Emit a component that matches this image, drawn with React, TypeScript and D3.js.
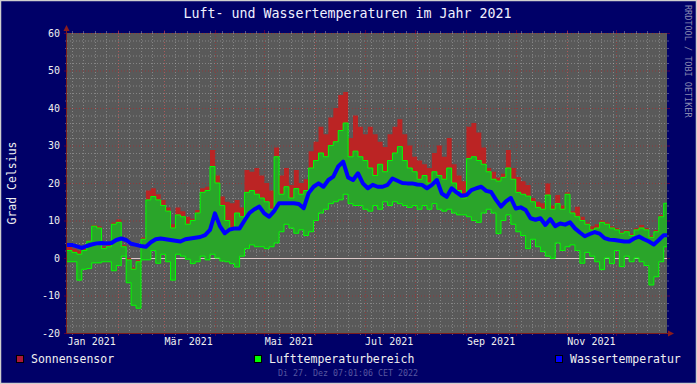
import React from "react";
import * as d3 from "d3";

// Messwerte im 3-Tage-Raster ab 1. Jan 2021
const startDay = new Date(Date.UTC(2021, 0, 1));
const endDay = new Date(Date.UTC(2022, 0, 1));
const stepDays = 3;

// Lufttemperatur Tagesmaximum
const airMax = [
  2.0, 1.5, 1.0, 2.0, 4.5, 8.5, 8.0, 2.5, 3.0, 9.0,
  9.5, 3.0, -0.5, -3.0, -1.0, 5.0, 15.5, 16.4, 15.5, 14.0,
  12.5, 8.0, 11.5, 11.0, 9.0, 10.0, 12.0, 17.5, 18.0, 24.4,
  20.0, 14.0, 10.0, 8.0, 12.0, 11.0, 17.5, 18.0, 17.0, 16.0,
  15.0, 13.0, 27.0, 17.0, 19.0, 16.0, 18.5, 17.0, 18.0, 24.0,
  26.0, 28.0, 27.0, 30.0, 31.0, 34.0, 36.0, 27.0, 28.5, 27.0,
  26.0, 24.0, 22.0, 25.0, 23.0, 26.0, 28.0, 29.7, 26.0, 24.0,
  23.0, 21.0, 22.0, 20.0, 23.0, 22.0, 21.0, 24.0, 20.0, 18.0,
  16.0, 26.5, 27.0, 26.0, 25.0, 23.0, 21.0, 20.5, 21.5, 24.0,
  21.0, 17.5, 17.0, 16.5, 15.0, 13.5, 13.0, 16.8, 13.0, 14.5,
  13.0, 17.0, 12.0, 11.0, 10.0, 9.0, 7.5, 8.0, 9.5, 9.0,
  8.0, 7.5, 6.6, 7.0, 6.0, 7.5, 8.0, 7.5, 5.5, 7.0,
  11.0, 14.6,
];

// Lufttemperatur Tagesminimum
const airMin = [
  -1.0, -1.0, -5.9, -3.0, -2.8, -1.3, -1.3, -1.0, -1.0, -3.4,
  -2.0, 0.5, -6.6, -12.6, -13.4, -0.5, -0.5, 2.0, -1.4, 1.0,
  -1.0, -5.9, 1.0, 0.5, -0.3, -1.5, -1.0, 0.5, -0.5, 1.0,
  0.0, -0.8, -1.0, -1.5, -2.4, 0.5, 2.5, 3.5, 3.0, 3.0,
  2.5, 3.0, 4.0, 7.0, 9.0, 8.0, 6.6, 7.5, 6.0, 7.0,
  10.0, 12.0, 13.0, 14.5, 15.0, 15.5, 17.0, 14.5, 14.0, 14.0,
  13.0, 12.5, 14.0, 13.0, 15.0, 14.0, 15.0, 14.5, 14.0, 13.5,
  14.0, 13.0, 14.0, 13.0, 14.5, 13.0, 12.5, 13.0, 12.0, 11.5,
  11.5, 11.0, 10.0, 9.5, 12.0, 13.0, 12.0, 6.5, 10.0, 11.5,
  9.0, 7.0, 6.0, 2.5, 5.0, 3.0, 1.7, 0.5, -0.1, 4.0,
  2.0, 3.0, 3.5, 2.0, -1.4, 1.5, 0.5, -1.0, -3.1, 0.0,
  -1.5, 2.0, -2.3, 0.5, -1.0, 0.0, -1.0, -2.0, -7.2, -5.0,
  -1.0, 3.0,
];

// Sonnensensor Maximum
const sunMax = [
  3.0, 2.5, 2.0, 2.5, 4.8, 8.8, 8.5, 3.0, 4.0, 9.5,
  10.3, 3.5, 0.0, -2.5, -0.5, 5.5, 18.0, 18.6, 17.0, 15.5,
  13.5, 9.0, 13.5, 12.5, 11.0, 10.5, 12.8, 18.6, 19.0, 28.8,
  22.0, 16.4, 15.0, 14.6, 15.5, 13.5, 23.5, 23.0, 24.0, 22.0,
  20.0, 18.0, 29.5, 22.0, 24.0, 19.5, 23.5, 20.0, 21.0, 28.5,
  31.0, 35.0, 33.0, 37.5, 40.0, 43.5, 44.3, 32.0, 38.0, 35.0,
  33.0, 35.0, 33.0, 31.0, 29.6, 33.0, 35.0, 37.0, 33.0, 30.0,
  27.0, 26.0, 25.0, 24.0, 28.0, 30.0, 27.0, 32.0, 25.0, 22.0,
  20.5, 35.0, 36.0, 33.5, 29.5, 24.0, 23.0, 21.5, 22.5, 28.8,
  24.0, 21.6, 20.5, 19.5, 16.0, 15.0, 14.6, 19.9, 14.0, 16.8,
  14.0, 17.5, 12.5, 13.7, 11.0, 9.5, 8.5, 9.0, 10.0, 9.5,
  8.5, 8.0, 7.0, 7.5, 6.5, 8.0, 8.8, 8.0, 6.0, 7.5,
  11.5, 14.6,
];

// Wassertemperatur
const water = [
  3.5, 3.5, 3.1, 2.7, 3.2, 3.6, 3.9, 4.0, 3.9, 4.0,
  4.8, 5.2, 4.8, 3.8, 3.5, 3.2, 3.0, 4.2, 5.0, 5.2,
  5.0, 4.8, 4.6, 4.4, 5.0, 5.2, 5.4, 5.6, 6.1, 7.5,
  11.9, 8.5, 6.6, 7.6, 7.9, 7.9, 10.0, 12.0, 13.0, 13.7,
  11.9, 11.0, 12.5, 14.6, 14.6, 14.6, 14.6, 14.4, 13.3, 17.3,
  19.0, 19.9, 19.0, 20.8, 21.7, 24.4, 25.7, 21.5, 20.8, 22.6,
  19.9, 18.6, 19.5, 19.0, 19.0, 19.5, 21.2, 20.6, 20.0, 19.9,
  19.9, 19.6, 19.5, 18.6, 19.5, 20.8, 17.2, 16.3, 18.6, 17.5,
  16.6, 16.8, 18.1, 18.6, 19.0, 17.9, 17.6, 15.5, 13.7, 15.1,
  16.0, 13.2, 13.5, 12.8, 10.6, 10.2, 10.6, 8.8, 10.4, 8.5,
  9.2, 8.9, 9.5, 7.9, 6.8, 5.8, 6.4, 6.9, 6.5, 5.3,
  4.9, 4.8, 4.6, 4.4, 4.4, 5.2, 5.7, 5.0, 4.4, 3.6,
  4.8, 6.1,
];

const yTicks = [-20, -10, 0, 10, 20, 30, 40, 50, 60];
const monthNames = ["Jan", "Feb", "Mär", "Apr", "Mai", "Jun", "Jul", "Aug", "Sep", "Okt", "Nov", "Dez"];
const legendItems = [
  { label: "Sonnensensor", color: "#aa1838", x: 16 },
  { label: "Lufttemperaturbereich", color: "#00ff00", x: 254 },
  { label: "Wassertemperatur", color: "#0000ff", x: 555 },
];

const W = 697;
const H = 384;
const plot = { left: 67, right: 667, top: 33, bottom: 333 };
const font = "'DejaVu Sans Mono', monospace";

const minorColor = "rgba(200,200,200,0.4)";
const majorColor = "rgba(255,0,0,0.33)";

const App: React.FC = () => {
  const x = d3.scaleUtc().domain([startDay, endDay]).range([plot.left, plot.right]);
  const y = d3.scaleLinear().domain([-20, 60]).range([plot.bottom, plot.top]);

  const rows = airMax.map((v, i) => ({
    d: d3.utcDay.offset(startDay, i * stepDays),
    max: v,
    min: airMin[i],
    sun: sunMax[i],
    w: water[i],
  }));
  const stepRows = [...rows, { ...rows[rows.length - 1], d: endDay }];

  const sunArea = d3
    .area<any>()
    .curve(d3.curveStepAfter)
    .x((d) => x(d.d))
    .y0((d) => y(d.max))
    .y1((d) => y(Math.max(d.sun, d.max)));
  const airArea = d3
    .area<any>()
    .curve(d3.curveStepAfter)
    .x((d) => x(d.d))
    .y0((d) => y(d.min))
    .y1((d) => y(d.max));
  const maxLine = d3.line<any>().curve(d3.curveStepAfter).x((d) => x(d.d)).y((d) => y(d.max));
  const minLine = d3.line<any>().curve(d3.curveStepAfter).x((d) => x(d.d)).y((d) => y(d.min));
  const waterLine = d3.line<any>().x((d) => x(d.d)).y((d) => y(d.w));

  const minorY = d3.range(-20, 61, 2).filter((v) => v % 10 !== 0);
  const weeks = d3.utcMonday.range(startDay, endDay);
  const months = d3.utcMonth.range(d3.utcDay.offset(startDay, 1), endDay);
  const labelMonths = d3.utcMonth.every(2)!.range(startDay, endDay);

  return (
    <>
      <style>{"body{margin:0}"}</style>
      <svg width={W} height={H} style={{ display: "block" }}>
        <rect x={0} y={0} width={W} height={H} fill="#000068" />
        <rect x={0.5} y={0.5} width={W - 1} height={H - 1} fill="none" stroke="#cfcfcf" strokeWidth={1.5} />

        {/* Zeichenfläche */}
        <rect x={plot.left} y={plot.top} width={plot.right - plot.left} height={plot.bottom - plot.top} fill="#595959" />

        {/* Gitter */}
        {minorY.map((v) => (
          <g key={"hy" + v}>
            <line x1={plot.left} x2={plot.right} y1={y(v) + 0.5} y2={y(v) + 0.5} stroke={minorColor} strokeDasharray="1,2" />
            <line x1={plot.left - 2} x2={plot.left} y1={y(v) + 0.5} y2={y(v) + 0.5} stroke={minorColor} />
            <line x1={plot.right} x2={plot.right + 2} y1={y(v) + 0.5} y2={y(v) + 0.5} stroke={minorColor} />
          </g>
        ))}
        {weeks.map((d) => (
          <g key={"wk" + d.getTime()}>
            <line x1={Math.round(x(d)) + 0.5} x2={Math.round(x(d)) + 0.5} y1={plot.top} y2={plot.bottom} stroke={minorColor} strokeDasharray="1,2" />
            <line x1={Math.round(x(d)) + 0.5} x2={Math.round(x(d)) + 0.5} y1={plot.bottom} y2={plot.bottom + 2} stroke={minorColor} />
            <line x1={Math.round(x(d)) + 0.5} x2={Math.round(x(d)) + 0.5} y1={plot.top - 2} y2={plot.top} stroke={minorColor} />
          </g>
        ))}
        {yTicks.map((v) => (
          <g key={"my" + v}>
            <line x1={plot.left} x2={plot.right} y1={y(v) + 0.5} y2={y(v) + 0.5} stroke={majorColor} strokeDasharray="1,2" />
            <line x1={plot.left - 3} x2={plot.left} y1={y(v) + 0.5} y2={y(v) + 0.5} stroke={majorColor} />
            <line x1={plot.right} x2={plot.right + 3} y1={y(v) + 0.5} y2={y(v) + 0.5} stroke={majorColor} />
          </g>
        ))}
        {months.map((d) => (
          <g key={"mo" + d.getTime()}>
            <line x1={Math.round(x(d)) + 0.5} x2={Math.round(x(d)) + 0.5} y1={plot.top} y2={plot.bottom} stroke={majorColor} strokeDasharray="1,2" />
            <line x1={Math.round(x(d)) + 0.5} x2={Math.round(x(d)) + 0.5} y1={plot.bottom} y2={plot.bottom + 3} stroke={majorColor} />
            <line x1={Math.round(x(d)) + 0.5} x2={Math.round(x(d)) + 0.5} y1={plot.top - 3} y2={plot.top} stroke={majorColor} />
          </g>
        ))}

        {/* Nulllinie */}
        <line x1={plot.left} x2={plot.right} y1={y(0) + 0.5} y2={y(0) + 0.5} stroke="#dcc8c8" />

        {/* Daten */}
        <path d={sunArea(stepRows) ?? ""} fill="#bb2424" />
        <path d={airArea(stepRows) ?? ""} fill="#2aa52a" />
        <path d={maxLine(stepRows) ?? ""} fill="none" stroke="#00ff00" strokeWidth={1} />
        <path d={minLine(stepRows) ?? ""} fill="none" stroke="#00ff00" strokeWidth={1} />
        <path d={waterLine(stepRows) ?? ""} fill="none" stroke="#0000ff" strokeWidth={4} strokeLinejoin="round" />

        {/* Achsen */}
        <line x1={plot.left - 0.5} x2={plot.left - 0.5} y1={plot.top - 3} y2={plot.bottom + 0.5} stroke="#7a1c1c" />
        <line x1={plot.left - 0.5} x2={plot.right + 3} y1={plot.bottom + 0.5} y2={plot.bottom + 0.5} stroke="#7a1c1c" />
        <path d={`M${plot.left - 3.5},${plot.top - 2} L${plot.left + 2.5},${plot.top - 2} L${plot.left - 0.5},${plot.top - 8} Z`} fill="#8b1c1c" />
        <path d={`M${plot.right + 1},${plot.bottom - 2.5} L${plot.right + 1},${plot.bottom + 3.5} L${plot.right + 7},${plot.bottom + 0.5} Z`} fill="#8b1c1c" />

        {/* Beschriftungen */}
        {yTicks.map((v) => (
          <text key={"yl" + v} x={60} y={y(v) + 3.5} textAnchor="end" fontFamily={font} fontSize={10} fill="#f0f0f0">
            {v}
          </text>
        ))}
        {labelMonths.map((m) => (
          <text key={"xl" + m.getTime()} x={x(d3.utcDay.offset(m, 15))} y={345} textAnchor="middle" fontFamily={font} fontSize={10} fill="#f0f0f0">
            {`${monthNames[m.getUTCMonth()]} ${m.getUTCFullYear()}`}
          </text>
        ))}

        <text x={347.5} y={18} textAnchor="middle" fontFamily={font} fontSize={13.3} fill="#f0f0ff">
          Luft- und Wassertemperaturen im Jahr 2021
        </text>
        <text transform="translate(16,183) rotate(-90)" textAnchor="middle" fontFamily={font} fontSize={11.5} fill="#f0f0f0">
          Grad Celsius
        </text>
        <text transform="translate(685,5) rotate(90)" fontFamily={font} fontSize={8.5} fill="#8888b0">
          RRDTOOL / TOBI OETIKER
        </text>

        {/* Legende */}
        {legendItems.map((l) => (
          <g key={l.label}>
            <rect x={l.x + 0.5} y={355.5} width={7} height={7} fill={l.color} stroke="#000000" />
            <text x={l.x + 15} y={363} fontFamily={font} fontSize={11.5} fill="#f0f0f0">
              {l.label}
            </text>
          </g>
        ))}
        <text x={348} y={376} textAnchor="middle" fontFamily={font} fontSize={8.3} fill="#5858a0">
          Di 27. Dez 07:01:06 CET 2022
        </text>
      </svg>
    </>
  );
};

export default App;
